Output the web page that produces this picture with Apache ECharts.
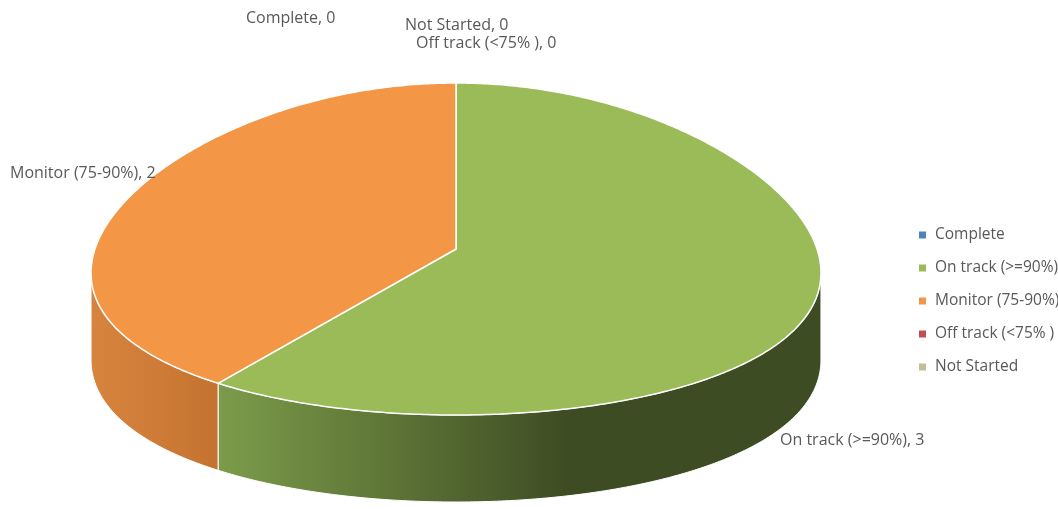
<!DOCTYPE html>
<html>
<head>
<meta charset="utf-8">
<script src="https://cdn.jsdelivr.net/npm/echarts@6/dist/echarts.min.js"></script>
<style>html,body{margin:0;padding:0;background:#fff;}#c{width:1058px;height:509px;}</style>
</head>
<body>
<div id="c"></div>
<script>
const categories = ['Complete', 'On track (>=90%)', 'Monitor (75-90%)', 'Off track (<75% )', 'Not Started'];
const values = [0, 3, 2, 0, 0];
const colors = ['#4F81BD', '#9BBB59', '#F39645', '#C0504D', '#C4BD97'];
const sideColors = [
  ['#3E6290', '#2C4668'],
  ['#7C9C4A', '#3E4C23'],
  ['#D7843E', '#C47330'],
  ['#973E3C', '#6E2C2B'],
  ['#A39C7A', '#7F795E']
];

// layout
const CX = 456, CY = 249, RX = 361, RY = 166, DEPTH = 87, K = 0.15;
const labelPos = [[246, 18], [780, 440], [10, 173], [416, 43], [405, 25]];
const FONT = '16px "Open Sans"';
const TEXT_COLOR = '#595959';

const total = values.reduce((a, b) => a + b, 0);

function pt(t, dy) {
  const s = Math.sin(t), c = -Math.cos(t);
  const f = 1 + K * c;
  return [CX + RX * s * f, CY + RY * c + dy];
}
// silhouette extremes
let tR = Math.PI / 2, tL = 3 * Math.PI / 2;
(function () {
  let best = -1e9;
  for (let t = 0; t <= Math.PI; t += 0.001) { const x = pt(t, 0)[0]; if (x > best) { best = x; tR = t; } }
  best = 1e9;
  for (let t = Math.PI; t <= 2 * Math.PI; t += 0.001) { const x = pt(t, 0)[0]; if (x < best) { best = x; tL = t; } }
})();

function arc(a, b, dy) {
  const pts = [];
  const n = Math.max(2, Math.ceil((b - a) / 0.01));
  for (let k = 0; k <= n; k++) pts.push(pt(a + (b - a) * k / n, dy));
  return pts;
}

function renderItem(params, api) {
  const i = params.seriesIndex;
  let before = 0;
  for (let j = 0; j < i; j++) before += values[j];
  const start = before / total * 2 * Math.PI;
  const end = (before + values[i]) / total * 2 * Math.PI;
  const children = [];
  if (values[i] > 0) {
    const a = Math.max(start, tR), b = Math.min(end, tL);
    if (b > a) {
      const top = arc(a, b, 0);
      const bot = arc(a, b, DEPTH).reverse();
      const stops = i === 1
        ? [{offset: 0, color: sideColors[i][0]}, {offset: 0.58, color: sideColors[i][1]}, {offset: 1, color: sideColors[i][1]}]
        : [{offset: 0, color: sideColors[i][0]}, {offset: 1, color: sideColors[i][1]}];
      children.push({
        type: 'polygon', z2: 1,
        shape: {points: top.concat(bot)},
        style: {fill: new echarts.graphic.LinearGradient(0, 0, 1, 0, stops), stroke: '#ffffff', lineWidth: 1}
      });
    }
    const face = [[CX, CY]].concat(arc(start, end, 0));
    children.push({
      type: 'polygon', z2: 10,
      shape: {points: face},
      style: {fill: colors[i], stroke: '#ffffff', lineWidth: 1.5, lineJoin: 'round'}
    });
  }
  children.push({
    type: 'text', z2: 30,
    x: labelPos[i][0], y: labelPos[i][1],
    style: {text: categories[i] + ', ' + values[i], fill: TEXT_COLOR, font: FONT, align: 'left', verticalAlign: 'middle'}
  });
  return {type: 'group', children: children};
}

const chart = echarts.init(document.getElementById('c'), null, {renderer: 'canvas'});
chart.setOption({
  animation: false,
  backgroundColor: '#ffffff',
  legend: {
    orient: 'vertical',
    left: 914, top: 222,
    itemWidth: 7, itemHeight: 7, itemGap: 17,
    icon: 'rect',
    data: categories,
    textStyle: {fontFamily: 'Open Sans', fontSize: 15.5, color: TEXT_COLOR, padding: [0, 0, 0, 4]}
  },
  series: categories.map((name, i) => ({
    type: 'custom',
    name: name,
    coordinateSystem: 'none',
    renderItem: renderItem,
    itemStyle: {color: colors[i]},
    data: [[values[i]]],
    silent: true
  }))
});
</script>
</body>
</html>
